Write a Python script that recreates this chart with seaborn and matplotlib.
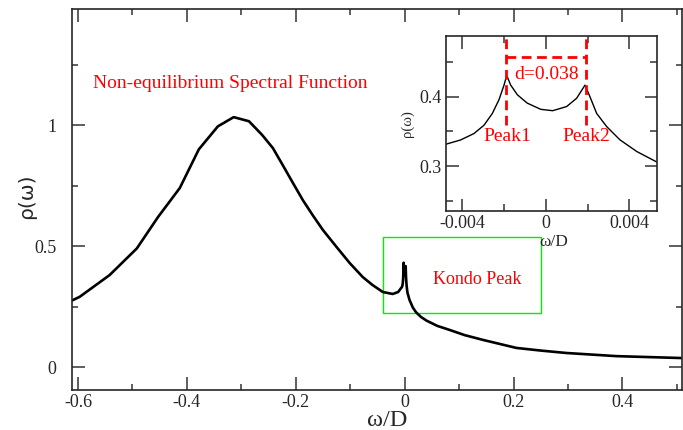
import numpy as np
import pandas as pd
import matplotlib
matplotlib.use("Agg")
import matplotlib.pyplot as plt
import seaborn as sns
from matplotlib.patches import Rectangle
from matplotlib.ticker import MultipleLocator

# ---- data ----
omega_main = [-0.611, -0.597, -0.542, -0.492, -0.453, -0.413, -0.378, -0.343, -0.314,
              -0.286, -0.262, -0.242, -0.224, -0.205, -0.187, -0.169, -0.150, -0.125,
              -0.101, -0.077, -0.059, -0.040, -0.022, -0.012,
              0.009, 0.015, 0.021, 0.030, 0.040, 0.060, 0.083, 0.110, 0.144, 0.205,
              0.250, 0.297, 0.389, 0.51]
rho_main = [0.275, 0.29, 0.38, 0.49, 0.62, 0.74, 0.90, 0.995, 1.033,
            1.016, 0.96, 0.905, 0.835, 0.76, 0.69, 0.628, 0.566, 0.496,
            0.43, 0.372, 0.339, 0.31, 0.302, 0.31,
            0.277, 0.246, 0.226, 0.207, 0.192, 0.17, 0.153, 0.132, 0.112, 0.079,
            0.068, 0.058, 0.045, 0.037]

omega_inset = [-0.0048, -0.00409, -0.00345, -0.00297, -0.00257, -0.00225, -0.00201,
               -0.00188, -0.00169, -0.00137, -0.0009, -0.00025, 0.00032, 0.00099,
               0.00147, 0.00187, 0.00211, 0.00243, 0.00291, 0.00354, 0.00435, 0.0053]
rho_inset = [0.3315, 0.3377, 0.347, 0.359, 0.376, 0.396, 0.417,
             0.431, 0.417, 0.403, 0.391, 0.382, 0.380, 0.386,
             0.398, 0.417, 0.400, 0.376, 0.357, 0.338, 0.321, 0.306]

peak_positions = [-0.0019, 0.0019]
peak_labels = ["Peak1", "Peak2"]
gap_label = "d=0.038"

main_x_ticks = [-0.6, -0.4, -0.2, 0, 0.2, 0.4]
main_x_ticklabels = ["-0.6", "-0.4", "-0.2", "0", "0.2", "0.4"]
main_y_ticks = [0, 0.5, 1]
main_y_ticklabels = ["0", "0.5", "1"]
inset_x_ticks = [-0.004, 0, 0.004]
inset_x_ticklabels = ["-0.004", "0", "0.004"]
inset_y_ticks = [0.3, 0.4]
inset_y_ticklabels = ["0.3", "0.4"]

# ---- style ----
sns.set_style("ticks")
plt.rcParams["font.family"] = ["Liberation Serif", "DejaVu Serif"]

fig = plt.figure(figsize=(6.83, 4.30), dpi=100)
ax = fig.add_axes([72/683, 1-390/430, (683-72)/683 - 0.001, (390-9)/430])

df_main = pd.DataFrame({"omega": omega_main + omega_inset, "rho": rho_main + rho_inset})
df_main = df_main.sort_values("omega")
sns.lineplot(data=df_main, x="omega", y="rho", ax=ax, color="black", lw=1.9,
             sort=True, estimator=None)

ax.set_xlim(-0.611, 0.51)
ax.set_ylim(-0.095, 1.48)
ax.set_xticks(main_x_ticks)
ax.set_xticklabels(main_x_ticklabels)
ax.set_yticks(main_y_ticks)
ax.set_yticklabels(main_y_ticklabels)
ax.xaxis.set_minor_locator(MultipleLocator(0.1))
ax.yaxis.set_minor_locator(MultipleLocator(0.25))
ax.tick_params(which="both", direction="in", top=True, right=True, color="#333333",
               labelsize=13, width=1.1)
ax.tick_params(which="major", length=9.5)
ax.tick_params(which="minor", length=4.5)
ax.tick_params(axis="y", which="major", pad=11)
ax.tick_params(axis="x", which="major", pad=3)
for s in ax.spines.values():
    s.set_linewidth(1.2)
ax.set_xlabel("ω/D", fontsize=17.5, va="center")
ax.xaxis.set_label_coords(0.5 + 10/611, -0.081)
ax.set_ylabel("ρ(ω)", fontsize=14.5, family=["DejaVu Sans"], va="center")
ax.yaxis.set_label_coords(-0.074, 0.5 + 3.5/381)

ax.text(-0.321, 1.17, "Non-equilibrium Spectral Function", color="red",
        fontsize=14, ha="center", va="center")
ax.add_patch(Rectangle((-0.040, 0.223), 0.290, 0.314, fill=False,
                       edgecolor="#00ee00", lw=1.0))
ax.text(0.134, 0.36, "Kondo Peak", color="red", fontsize=13, ha="center", va="center")

# ---- inset ----
ins = fig.add_axes([446/683, 1-211/430, (657-446)/683, (211-36)/430])
df_in = pd.DataFrame({"omega": omega_inset, "rho": rho_inset})
sns.lineplot(data=df_in, x="omega", y="rho", ax=ins, color="black", lw=1.0,
             estimator=None)
ins.set_xlim(-0.00479, 0.00532)
ins.set_ylim(0.235, 0.488)
ins.set_xticks(inset_x_ticks)
ins.set_xticklabels(inset_x_ticklabels)
ins.set_yticks(inset_y_ticks)
ins.set_yticklabels(inset_y_ticklabels)
ins.xaxis.set_minor_locator(MultipleLocator(0.002))
ins.yaxis.set_minor_locator(MultipleLocator(0.05))
ins.tick_params(which="both", direction="in", top=True, right=True, color="#333333",
                labelsize=13, width=1.1, pad=3)
ins.tick_params(which="major", length=9)
ins.tick_params(which="minor", length=5)
for s in ins.spines.values():
    s.set_linewidth(1.2)
ins.set_xlabel("ω/D", fontsize=12.5, va="center")
ins.xaxis.set_label_coords(0.509, -0.175)
ins.set_ylabel("ρ(ω)", fontsize=10.5, va="center")
ins.yaxis.set_label_coords(-0.185, 0.5)

for xp, lab in zip(peak_positions, peak_labels):
    ins.plot([xp, xp], [0.359, 0.488], color="red", lw=2, ls=(0, (3.5, 2)))
    ins.text(xp + 0.00005, 0.343, lab, color="red", fontsize=14,
             ha="center", va="center")
ins.plot(peak_positions, [0.458, 0.458], color="red", lw=2, ls=(0, (3.5, 2)))
ins.text(0.00003, 0.432, gap_label, color="red", fontsize=14, ha="center", va="center")

fig.savefig("out.png", dpi=100)
